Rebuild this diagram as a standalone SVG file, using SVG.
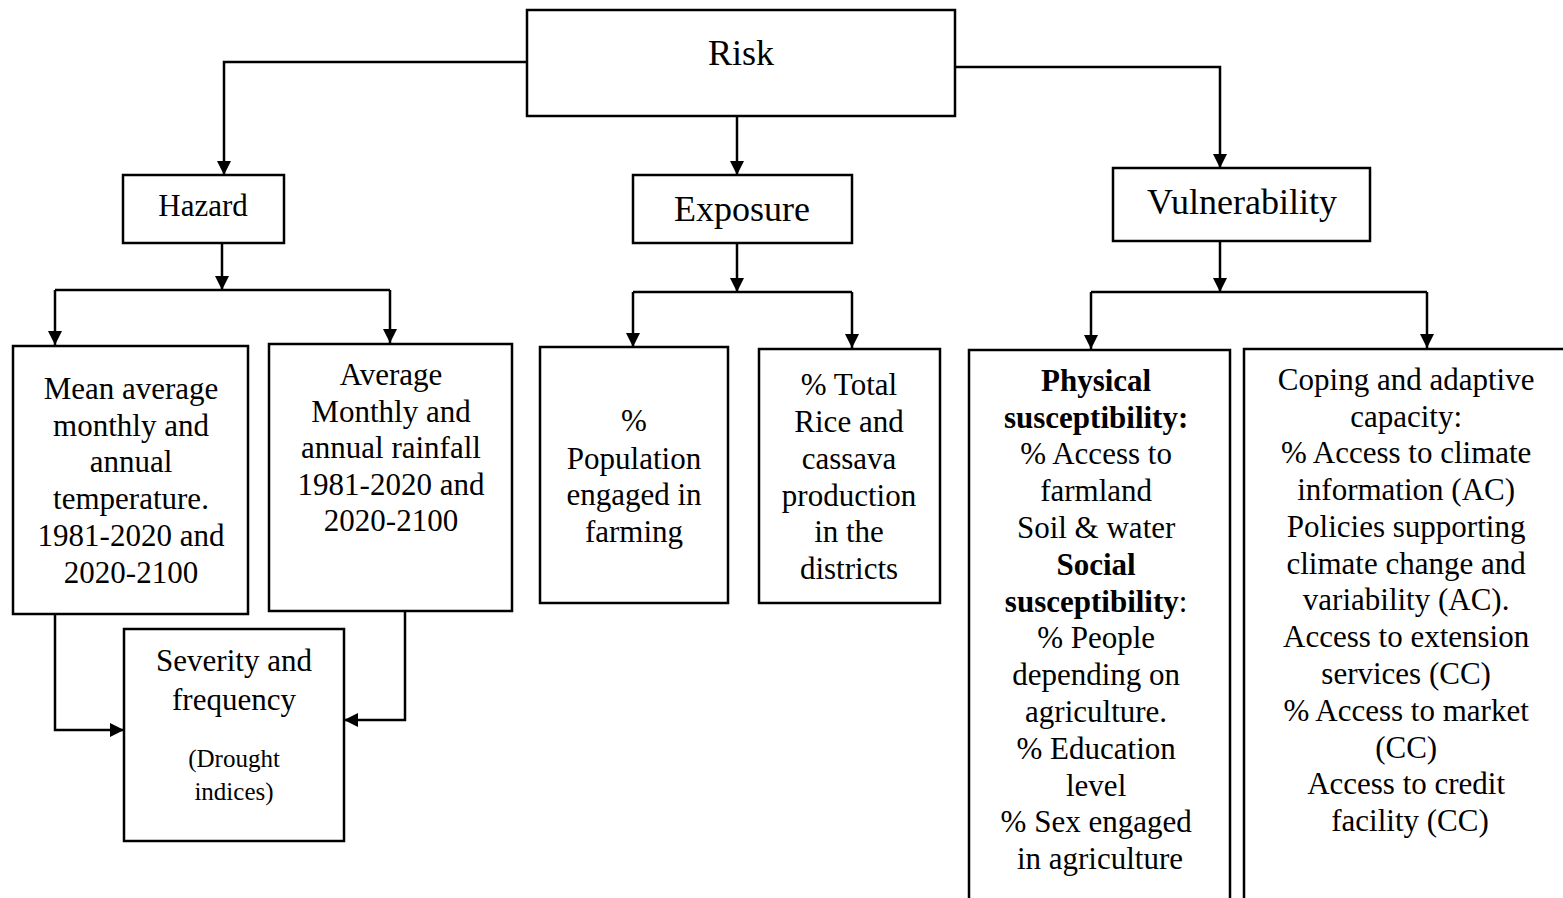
<svg xmlns="http://www.w3.org/2000/svg" width="1563" height="898" viewBox="0 0 1563 898">
<style>
.box{fill:#fff;stroke:#000;stroke-width:2.5}
.t{font-family:"Liberation Serif","Times New Roman",serif;font-size:31px;fill:#000;text-anchor:middle}
.big{font-size:36px}
.sm{font-size:25px}
.b{font-weight:bold}
.c{fill:none;stroke:#000;stroke-width:2.5}
</style>
<defs>
<marker id="ah" markerUnits="userSpaceOnUse" markerWidth="14" markerHeight="16" refX="14" refY="7" orient="auto">
<path d="M0,0 L14,7 L0,14 Z" fill="#000"/>
</marker>
</defs>
<rect width="1563" height="898" fill="#fff"/>
<g id="connectors">
<path class="c" d="M527,62 H224 V175" marker-end="url(#ah)"/>
<path class="c" d="M737,116 V175" marker-end="url(#ah)"/>
<path class="c" d="M955,67 H1220 V168" marker-end="url(#ah)"/>
<path class="c" d="M222,243 V290" marker-end="url(#ah)"/>
<path class="c" d="M55,290 H390"/>
<path class="c" d="M55,290 V345" marker-end="url(#ah)"/>
<path class="c" d="M390,290 V343" marker-end="url(#ah)"/>
<path class="c" d="M55,614 V730 H124" marker-end="url(#ah)"/>
<path class="c" d="M405,611 V720 H344" marker-end="url(#ah)"/>
<path class="c" d="M737,243 V292" marker-end="url(#ah)"/>
<path class="c" d="M633,292 H852"/>
<path class="c" d="M633,292 V347" marker-end="url(#ah)"/>
<path class="c" d="M852,292 V348" marker-end="url(#ah)"/>
<path class="c" d="M1220,241 V292" marker-end="url(#ah)"/>
<path class="c" d="M1091,292 H1427"/>
<path class="c" d="M1091,292 V349" marker-end="url(#ah)"/>
<path class="c" d="M1427,292 V348" marker-end="url(#ah)"/>
</g>
<g id="risk">
<rect class="box" x="527" y="10" width="428" height="106"/>
<text class="t big" x="741" y="65">Risk</text>
</g>
<g id="hazard">
<rect class="box" x="123" y="175" width="161" height="68"/>
<text class="t" x="203" y="216">Hazard</text>
</g>
<g id="exposure">
<rect class="box" x="633" y="175" width="219" height="68"/>
<text class="t big" x="742" y="221">Exposure</text>
</g>
<g id="vulnerability">
<rect class="box" x="1113" y="168" width="257" height="73"/>
<text class="t big" x="1242" y="214">Vulnerability</text>
</g>
<g id="temperature">
<rect class="box" x="13" y="346" width="235" height="268"/>
<text class="t" x="131"><tspan x="131" y="399">Mean average</tspan><tspan x="131" y="436">monthly and</tspan><tspan x="131" y="472">annual</tspan><tspan x="131" y="509">temperature.</tspan><tspan x="131" y="546">1981-2020 and</tspan><tspan x="131" y="583">2020-2100</tspan></text>
</g>
<g id="rainfall">
<rect class="box" x="269" y="344" width="243" height="267"/>
<text class="t" x="391"><tspan x="391" y="385">Average</tspan><tspan x="391" y="422">Monthly and</tspan><tspan x="391" y="458">annual rainfall</tspan><tspan x="391" y="495">1981-2020 and</tspan><tspan x="391" y="531">2020-2100</tspan></text>
</g>
<g id="severity">
<rect class="box" x="124" y="629" width="220" height="212"/>
<text class="t" x="234"><tspan x="234" y="671">Severity and</tspan><tspan x="234" y="710">frequency</tspan></text>
<text class="t sm" x="234"><tspan x="234" y="767">(Drought</tspan><tspan x="234" y="800">indices)</tspan></text>
</g>
<g id="population">
<rect class="box" x="540" y="347" width="188" height="256"/>
<text class="t" x="634"><tspan x="634" y="431">%</tspan><tspan x="634" y="469">Population</tspan><tspan x="634" y="505">engaged in</tspan><tspan x="634" y="542">farming</tspan></text>
</g>
<g id="production">
<rect class="box" x="759" y="349" width="181" height="254"/>
<text class="t" x="849"><tspan x="849" y="395">% Total</tspan><tspan x="849" y="432">Rice and</tspan><tspan x="849" y="469">cassava</tspan><tspan x="849" y="506">production</tspan><tspan x="849" y="542">in the</tspan><tspan x="849" y="579">districts</tspan></text>
</g>
<g id="susceptibility">
<rect class="box" x="969" y="350" width="261" height="560"/>
<text class="t" x="1100">
<tspan x="1100" y="391" class="b">Physical</tspan>
<tspan x="1100" y="428" class="b">susceptibility:</tspan>
<tspan x="1100" y="464">% Access to</tspan>
<tspan x="1100" y="501">farmland</tspan>
<tspan x="1100" y="538">Soil &amp; water</tspan>
<tspan x="1100" y="575" class="b">Social</tspan>
<tspan x="1100" y="612"><tspan class="b">susceptibility</tspan>:</tspan>
<tspan x="1100" y="648">% People</tspan>
<tspan x="1100" y="685">depending on</tspan>
<tspan x="1100" y="722">agriculture.</tspan>
<tspan x="1100" y="759">% Education</tspan>
<tspan x="1100" y="796">level</tspan>
<tspan x="1100" y="832">% Sex engaged</tspan>
<tspan x="1100" y="869">in agriculture</tspan>
</text>
</g>
<g id="capacity">
<rect class="box" x="1244" y="349" width="340" height="561"/>
<text class="t" x="1410">
<tspan x="1410" y="390">Coping and adaptive</tspan>
<tspan x="1410" y="427">capacity:</tspan>
<tspan x="1410" y="463">% Access to climate</tspan>
<tspan x="1410" y="500">information (AC)</tspan>
<tspan x="1410" y="537">Policies supporting</tspan>
<tspan x="1410" y="574">climate change and</tspan>
<tspan x="1410" y="610">variability (AC).</tspan>
<tspan x="1410" y="647">Access to extension</tspan>
<tspan x="1410" y="684">services (CC)</tspan>
<tspan x="1410" y="721">% Access to market</tspan>
<tspan x="1410" y="758">(CC)</tspan>
<tspan x="1410" y="794">Access to credit</tspan>
<tspan x="1410" y="831">facility (CC)</tspan>
</text>
</g>
</svg>
